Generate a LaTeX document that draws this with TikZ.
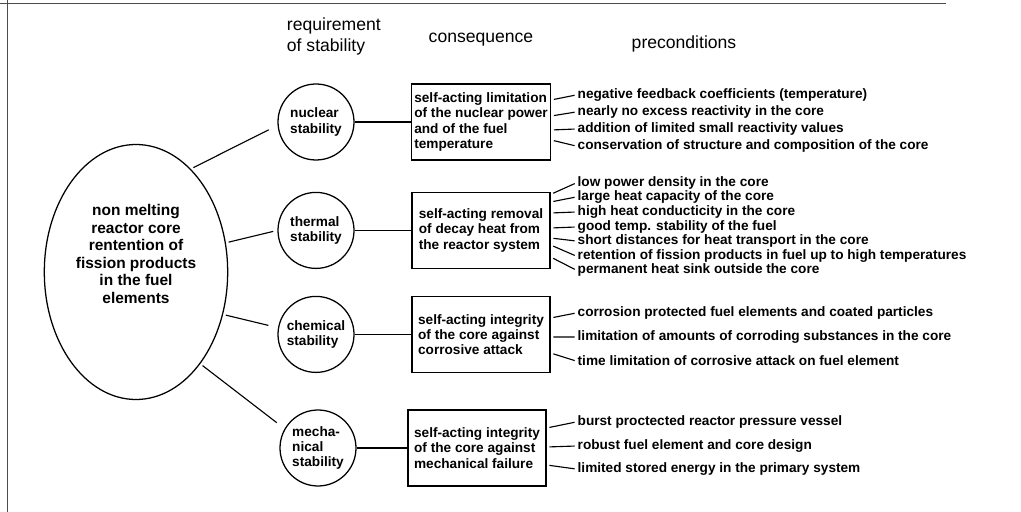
\documentclass[tikz,border=0pt]{standalone}
\usepackage{fontspec}
\setmainfont{Liberation Sans}
\usetikzlibrary{shapes.geometric}
\begin{document}
\begin{tikzpicture}[
    txt/.style={font=\bfseries\fontsize{9.7}{10.8}\selectfont},
    stab/.style={draw, circle, line width=0.9pt, minimum size=1.9cm, inner sep=0pt, align=left, txt},
    cons/.style={draw, rectangle, line width=0.9pt, minimum width=3.45cm, minimum height=1.9cm, inner sep=2pt, align=left, txt},
    pre/.style={anchor=west, inner sep=1pt, txt},
    head/.style={font=\fontsize{12.5}{15}\selectfont, align=left},
    link/.style={line width=0.8pt},
    tick/.style={line width=0.8pt, shorten <=2pt, shorten >=1pt}
]
    \useasboundingbox (0,0) rectangle (25.525,-12.8);

    % scan frame
    \draw[black!70, line width=0.6pt] (0,-0.075) -- (23.65,-0.075);
    \draw[black!70, line width=0.6pt] (0.175,0) -- (0.175,-12.8);

    % Column headings
    \node[head, anchor=west] (hreq) at (7.05,-0.91) {requirement\\of stability};
    \node[head] (hcons) at (12.025,-1.0) {consequence};
    \node[head] (hpre) at (17.1,-1.1) {preconditions};

    % Draw the goal
    \node[draw, ellipse, line width=0.9pt, minimum width=4.4cm, minimum height=6.375cm, align=center, font=\bfseries\fontsize{11}{12.5}\selectfont] (core) at (3.4,-6.8) {non melting\\reactor core\\rentention of\\fission products\\in the fuel\\elements\\[1.2em]};

    % Draw the stability requirements
    \node[stab] (nuc) at (7.9,-3.05) {nuclear\\stability};
    \node[stab] (therm) at (7.9,-5.76) {thermal\\stability};
    \node[stab] (chem) at (7.9,-8.36) {chemical\\stability};
    \node[stab] (mech) at (7.95,-11.2) {mecha-\\nical\\stability};

    % Draw the consequences
    \node[cons] (nbox) at (12.025,-3.05) {self-acting limitation\\of the nuclear power\\and of the fuel\\temperature};
    \node[cons] (tbox) at (12.025,-5.76) {self-acting removal\\of decay heat from\\the reactor system};
    \node[cons] (cbox) at (12.025,-8.36) {self-acting integrity\\of the core against\\corrosive attack};
    \node[cons] (mbox) at (11.925,-11.2) {self-acting integrity\\of the core against\\mechanical failure};

    % Draw the preconditions
    \node[pre] (n1) at (14.4,-2.375) {negative feedback coefficients (temperature)};
    \node[pre] (n2) at (14.4,-2.8) {nearly no excess reactivity in the core};
    \node[pre] (n3) at (14.4,-3.225) {addition of limited small reactivity values};
    \node[pre] (n4) at (14.4,-3.65) {conservation of structure and composition of the core};

    \node[pre] (t1) at (14.4,-4.575) {low power density in the core};
    \node[pre] (t2) at (14.4,-4.925) {large heat capacity of the core};
    \node[pre] (t3) at (14.4,-5.3) {high heat conducticity in the core};
    \node[pre] (t4) at (14.4,-5.675) {good temp. stability of the fuel};
    \node[pre] (t5) at (14.4,-6.025) {short distances for heat transport in the core};
    \node[pre] (t6) at (14.4,-6.4) {retention of fission products in fuel up to high temperatures};
    \node[pre] (t7) at (14.4,-6.75) {permanent heat sink outside the core};

    \node[pre] (c1) at (14.4,-7.825) {corrosion protected fuel elements and coated particles};
    \node[pre] (c2) at (14.4,-8.425) {limitation of amounts of corroding substances in the core};
    \node[pre] (c3) at (14.4,-9.025) {time limitation of corrosive attack on fuel element};

    \node[pre] (m1) at (14.4,-10.55) {burst proctected reactor pressure vessel};
    \node[pre] (m2) at (14.4,-11.15) {robust fuel element and core design};
    \node[pre] (m3) at (14.4,-11.725) {limited stored energy in the primary system};

    % Draw connections
    \draw[link, shorten <=2pt, shorten >=7pt] (core.62) -- (nuc.185);
    \draw[link, shorten <=2pt, shorten >=3pt] (core.18) -- (therm.west);
    \draw[link, shorten <=2pt, shorten >=7pt] (core.-26) -- (chem.170);
    \draw[link, shorten <=2pt, shorten >=7pt] (core.-55) -- (mech.150);

    \draw[link] (nuc) -- (nbox);
    \draw[link] (therm) -- (tbox);
    \draw[link] (chem) -- (cbox);
    \draw[link] (mech) -- (mbox);

    \draw[tick] ([yshift=0.55cm]nbox.east) -- (n1.west);
    \draw[tick] ([yshift=0.15cm]nbox.east) -- (n2.west);
    \draw[tick] ([yshift=-0.2cm]nbox.east) -- (n3.west);
    \draw[tick] ([yshift=-0.45cm]nbox.east) -- (n4.west);

    \draw[tick] ([yshift=0.9cm]tbox.east) -- (t1.west);
    \draw[tick] ([yshift=0.71cm]tbox.east) -- (t2.west);
    \draw[tick] ([yshift=0.435cm]tbox.east) -- (t3.west);
    \draw[tick] ([yshift=0.06cm]tbox.east) -- (t4.west);
    \draw[tick] ([yshift=-0.19cm]tbox.east) -- (t5.west);
    \draw[tick] ([yshift=-0.365cm]tbox.east) -- (t6.west);
    \draw[tick] ([yshift=-0.665cm]tbox.east) -- (t7.west);

    \draw[tick] ([yshift=0.41cm]cbox.east) -- (c1.west);
    \draw[tick] ([yshift=-0.065cm]cbox.east) -- (c2.west);
    \draw[tick] ([yshift=-0.465cm]cbox.east) -- (c3.west);

    \draw[tick] ([yshift=0.5cm]mbox.east) -- (m1.west);
    \draw[tick] ([yshift=0.025cm]mbox.east) -- (m2.west);
    \draw[tick] ([yshift=-0.425cm]mbox.east) -- (m3.west);

\end{tikzpicture}
\end{document}
